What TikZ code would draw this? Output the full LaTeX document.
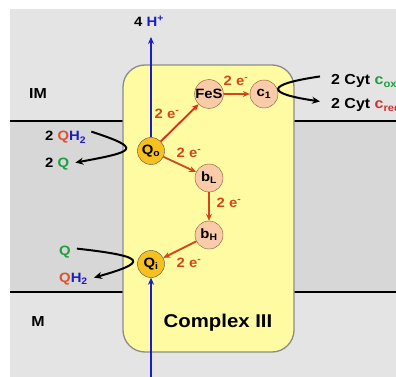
\documentclass[tikz,border=0pt]{standalone}
\usepackage{fontspec}
\setmainfont{Liberation Sans}[FakeStretch=1.1]
\usepackage{tikz}
\usetikzlibrary{arrows.meta,positioning,calc}
\definecolor{bgGray}{HTML}{E4E4E4}
\definecolor{memGray}{HTML}{D7D7D7}
\definecolor{cxYellow}{HTML}{FFFBA3}
\definecolor{qGold}{HTML}{F6C11F}
\definecolor{hemePeach}{HTML}{F9CBA8}
\definecolor{eRed}{HTML}{D2471A}
\definecolor{eBright}{HTML}{E02A1A}
\definecolor{hBlue}{HTML}{1A1FC4}
\definecolor{qGreen}{HTML}{1E9E3C}
\definecolor{qhRed}{HTML}{E0502A}
\definecolor{cRed}{HTML}{D03030}

\begin{document}
\begin{tikzpicture}[x=1pt,y=-1pt,
    every node/.style={font=\bfseries\fontsize{13.5}{13.5}\selectfont},
    qsite/.style={circle,draw=black!70,fill=qGold,minimum size=27pt,inner sep=0pt},
    cofac/.style={circle,draw=brown!70!black,fill=hemePeach,minimum size=28pt,inner sep=0pt},
    etrans/.style={-{Stealth[length=7pt,width=6pt]},line width=1.8pt,eRed},
    elab/.style={text=eRed},
    side/.style={anchor=base west,inner sep=0pt},
    flux/.style={-{Stealth[length=8pt,width=7pt]},line width=2pt},
    proton/.style={-{Stealth[length=7pt,width=6pt]},line width=1.8pt,hBlue}]
  \useasboundingbox (0,0) rectangle (396,377);
  \fill[white] (0,0) rectangle (396,377);
  \fill[bgGray] (10,9) rectangle (396,377);
  \fill[memGray] (10,121) rectangle (396,292);
  \draw[line width=2pt] (10,121) -- (396,121);
  \draw[line width=2pt] (10,292) -- (396,292);
  \filldraw[fill=cxYellow,draw=black!45,line width=1.3pt,rounded corners=22pt] (123,65) rectangle (294,352);

  \node[font=\bfseries\fontsize{14.5}{14.5}\selectfont] (im) at (38,94) {IM};
  \node[font=\bfseries\fontsize{14.5}{14.5}\selectfont] (mx) at (38,322) {M};
  \node[font=\bfseries\fontsize{18.5}{18.5}\selectfont] (cx) at (218,323) {Complex III};

  \node[qsite] (Qo) at (151,151) {Q\textsubscript{o}};
  \node[qsite] (Qi) at (151,264) {Q\textsubscript{i}};
  \node[cofac] (FeS) at (209,94) {FeS};
  \node[cofac] (c1) at (264,94) {c\textsubscript{1}};
  \node[cofac] (bL) at (209,178) {b\textsubscript{L}};
  \node[cofac] (bH) at (209,235) {b\textsubscript{H}};

  \draw[etrans,eBright] (Qo) -- (FeS);
  \draw[etrans] (FeS) -- (c1);
  \draw[etrans] (Qo) -- (bL);
  \draw[etrans] (bL) -- (bH);
  \draw[etrans] (bH) -- (Qi);
  \node[elab] (e1) at (167,114) {2 e\textsuperscript{-}};
  \node[elab] (e2) at (236,81) {2 e\textsuperscript{-}};
  \node[elab] (e3) at (189,153) {2 e\textsuperscript{-}};
  \node[elab] (e4) at (229,203) {2 e\textsuperscript{-}};
  \node[elab] (e5) at (189,263) {2 e\textsuperscript{-}};

  \node (hout) at (149,21) {4 \textcolor{hBlue}{H\textsuperscript{+}}};
  \coordinate (htop) at (151,37);
  \coordinate (hin) at (151,377);
  \draw[proton] (Qo.north) -- (htop);
  \draw[proton] (hin) -- (Qi.south);

  \node[side] (qh2o) at (45,141) {2 \textcolor{qhRed}{Q}\textcolor{hBlue}{H\textsubscript{2}}};
  \node[side] (qo) at (45,167) {2 \textcolor{qGreen}{Q}};
  \node[side] (qi) at (59,255) {\textcolor{qGreen}{Q}};
  \node[side] (qh2i) at (59,282) {\textcolor{qhRed}{Q}\textcolor{hBlue}{H\textsubscript{2}}};
  \node[side,font=\bfseries\fontsize{14.5}{14.5}\selectfont] (cox) at (331,85) {2 Cyt \textcolor{qGreen}{c\textsubscript{ox}}};
  \node[side,font=\bfseries\fontsize{14.5}{14.5}\selectfont] (cred) at (331,109) {2 Cyt \textcolor{cRed}{c\textsubscript{red}}};

  \draw[flux] ([shift={(5,-6)}]qh2o.east) .. controls +(52,17) and +(60,-11) .. ([shift={(6,-1)}]qo.east);
  \draw[flux] ([shift={(-11,-5)}]cox.west) .. controls +(-55,8) and +(-55,-8) .. ([shift={(-11,-4)}]cred.west);
  \draw[flux] ([shift={(6,-3)}]qi.east) .. controls +(72,8) and +(53,-15) .. ([shift={(6,-1)}]qh2i.east);
\end{tikzpicture}
\end{document}
